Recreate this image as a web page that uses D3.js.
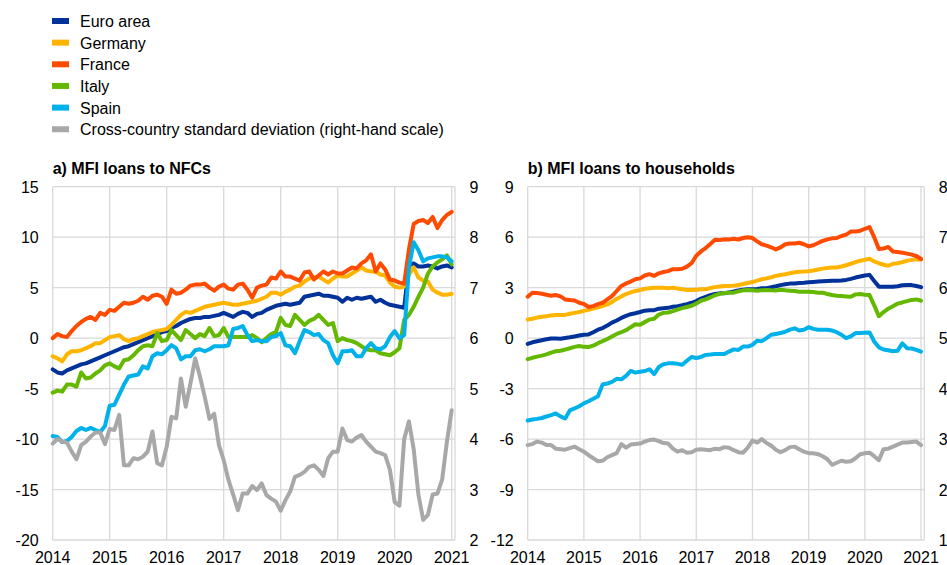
<!DOCTYPE html>
<html>
<head>
<meta charset="utf-8">
<script src="https://cdn.jsdelivr.net/npm/d3@7"></script>
<style>
  body { margin: 0; background: #fff; }
  text { font-family: "Liberation Sans", Arial, sans-serif; fill: #000; }
</style>
</head>
<body>
<svg id="chart" width="947" height="565"></svg>
<script>
// monthly observations, index 0 = Jan 2014 ... 84 = Jan 2021
const yearLabels = [2014, 2015, 2016, 2017, 2018, 2019, 2020, 2021];

const seriesNames = ["Euro area", "Germany", "France", "Italy", "Spain",
  "Cross-country standard deviation (right-hand scale)"];
const seriesColors = ["#003299", "#ffb400", "#ff4b00", "#65b800", "#00b1ea", "#a8a8a8"];

// a) MFI loans to NFCs
const nfcEuro = [-3.1,-3.4,-3.5,-3.2,-3.0,-2.8,-2.6,-2.5,-2.3,-2.1,-1.9,-1.7,
  -1.5,-1.3,-1.1,-0.9,-0.8,-0.6,-0.4,-0.2,0.0,0.2,0.4,0.6,
  0.7,1.0,1.2,1.5,1.7,1.9,2.0,2.0,2.1,2.1,2.2,2.3,
  2.5,2.3,2.1,2.4,2.6,2.5,2.1,2.4,2.5,2.8,3.0,3.2,
  3.3,3.4,3.3,3.4,3.5,4.1,4.2,4.3,4.4,4.2,4.2,4.1,
  4.0,3.6,4.0,3.8,4.0,3.9,4.0,4.1,3.6,3.8,3.5,3.3,
  3.2,3.1,3.0,7.2,7.4,7.1,7.1,7.2,7.1,6.9,7.1,7.2,
  7.0];
const nfcGermany = [-1.8,-2.0,-2.3,-1.6,-1.3,-1.3,-1.2,-1.0,-0.8,-0.5,-0.5,-0.2,
  0.1,0.2,0.3,-0.1,-0.3,-0.1,0.0,0.2,0.4,0.6,0.7,0.8,
  0.9,1.3,1.8,2.3,2.6,2.5,2.7,2.9,3.1,3.2,3.3,3.4,
  3.5,3.4,3.3,3.3,3.4,3.5,3.6,3.7,3.9,4.1,4.5,4.5,
  4.3,4.6,4.8,5.1,5.2,5.6,5.9,6.0,6.1,5.8,5.5,5.9,
  6.2,6.1,6.1,6.4,6.7,7.0,6.7,6.6,6.6,6.3,6.2,5.5,
  5.1,5.0,5.1,6.3,7.0,6.0,5.7,5.6,4.8,4.5,4.3,4.3,
  4.4];
const nfcFrance = [0.0,0.4,0.2,0.1,0.7,1.2,1.6,1.9,2.1,1.8,2.5,2.3,
  2.8,2.7,3.1,3.5,3.4,3.5,3.7,4.1,3.8,4.2,4.3,4.1,
  3.4,4.8,4.4,4.5,4.8,5.2,5.3,5.3,5.4,5.0,4.7,5.1,
  5.3,4.9,4.8,5.3,5.4,4.8,4.0,5.0,5.2,5.3,6.0,5.9,
  6.6,6.1,6.1,5.9,5.7,6.5,6.6,5.8,6.2,6.6,6.3,6.6,
  6.4,6.4,6.7,7.0,6.9,7.4,7.7,8.3,6.6,7.4,6.8,5.8,
  5.7,5.5,5.4,8.8,11.3,11.6,11.7,11.4,12.0,10.9,11.7,12.2,
  12.5];
const nfcItaly = [-5.4,-5.2,-5.3,-4.6,-4.6,-4.8,-3.4,-4.0,-3.9,-3.5,-3.2,-2.7,
  -2.5,-2.8,-3.0,-2.2,-2.1,-1.7,-1.2,-0.8,-0.7,-0.8,0.5,-0.3,
  -0.2,0.8,0.3,-0.2,0.8,0.4,0.0,0.4,0.2,1.0,0.2,0.3,
  1.0,0.1,0.1,0.1,0.1,0.1,0.3,0.0,-0.4,0.0,0.4,0.6,
  2.0,1.3,1.2,2.3,1.8,1.3,1.7,1.9,2.3,1.8,1.3,1.5,
  -0.3,0.0,-0.2,-0.3,-0.5,-0.8,-1.1,-1.2,-1.2,-1.5,-1.6,-1.7,
  -1.4,-1.0,1.8,2.3,3.1,4.1,5.0,6.4,7.1,7.5,7.8,8.2,
  7.3];
const nfcSpain = [-9.7,-9.8,-10.3,-10.2,-9.8,-9.2,-8.9,-9.1,-8.9,-9.1,-9.3,-8.7,
  -6.7,-6.6,-5.6,-4.6,-3.8,-3.7,-3.6,-2.8,-3.0,-1.8,-1.5,-1.6,
  -1.2,-0.7,-1.0,-2.1,-1.8,-1.8,-1.2,-1.1,-1.3,-1.1,-0.8,-0.8,
  -0.8,-0.7,0.9,1.0,1.2,0.3,-0.3,-0.2,-0.3,-0.3,0.1,0.2,
  0.5,-0.7,-0.8,-1.5,-0.3,0.8,0.6,0.3,0.4,-0.2,-0.5,-1.7,
  -2.5,-1.3,-1.3,-1.2,-1.8,-1.8,-1.0,-0.5,-1.0,-1.1,-0.8,0.1,
  0.7,0.0,0.3,7.0,9.5,8.7,7.6,7.9,8.0,8.1,8.1,8.0,
  7.6];
const nfcStdDev = [3.91,4.0,3.95,3.93,3.75,3.6,3.88,3.95,4.05,4.13,4.13,3.9,
  4.2,4.18,4.48,3.48,3.48,3.62,3.6,3.65,3.75,4.15,3.52,3.48,
  3.85,4.44,4.41,5.2,4.64,5.1,5.6,5.24,4.84,4.4,4.5,3.88,
  3.58,3.19,2.9,2.59,2.92,2.92,3.07,2.99,3.12,2.89,2.82,2.76,
  2.58,2.79,2.96,3.25,3.29,3.35,3.45,3.48,3.39,3.27,3.62,3.75,
  3.75,4.21,3.98,3.95,4.03,4.08,3.95,3.85,3.75,3.72,3.68,3.39,
  2.75,2.68,4.0,4.35,3.8,2.9,2.4,2.5,2.9,2.92,3.2,3.95,
  4.57];

// b) MFI loans to households
const hhEuro = [-0.34,-0.25,-0.19,-0.13,-0.07,-0.02,-0.03,-0.04,0.01,0.05,0.1,0.15,
  0.2,0.22,0.35,0.5,0.6,0.75,0.92,1.05,1.2,1.32,1.42,1.48,
  1.55,1.63,1.65,1.66,1.75,1.78,1.8,1.86,1.9,1.95,2.02,2.1,
  2.2,2.35,2.45,2.55,2.62,2.66,2.67,2.72,2.77,2.83,2.88,2.9,
  2.9,2.92,2.96,2.97,3.02,3.08,3.15,3.2,3.24,3.25,3.27,3.29,
  3.32,3.34,3.36,3.38,3.4,3.41,3.41,3.43,3.46,3.52,3.6,3.66,
  3.72,3.76,3.4,3.06,3.06,3.06,3.06,3.08,3.14,3.16,3.15,3.1,
  3.03];
const hhGermany = [1.11,1.15,1.22,1.27,1.3,1.35,1.37,1.37,1.38,1.45,1.5,1.55,
  1.62,1.68,1.75,1.83,1.91,2.0,2.15,2.33,2.48,2.62,2.72,2.8,
  2.86,2.93,2.97,3.0,3.0,2.99,2.96,3.0,2.95,2.9,2.86,2.86,
  2.88,2.9,2.9,2.98,3.03,3.07,3.1,3.1,3.12,3.16,3.22,3.28,
  3.33,3.42,3.5,3.55,3.62,3.7,3.75,3.8,3.86,3.91,3.95,3.96,
  3.98,4.02,4.08,4.13,4.17,4.2,4.2,4.26,4.33,4.42,4.52,4.6,
  4.66,4.72,4.56,4.45,4.36,4.3,4.42,4.45,4.52,4.6,4.65,4.68,
  4.68];
const hhFrance = [2.46,2.7,2.68,2.64,2.58,2.52,2.56,2.48,2.3,2.26,2.24,2.1,
  2.03,1.85,1.9,2.02,2.1,2.3,2.5,2.8,3.1,3.25,3.36,3.5,
  3.55,3.72,3.8,3.7,3.85,3.93,3.98,4.1,4.1,4.12,4.25,4.45,
  4.9,5.15,5.35,5.59,5.85,5.83,5.87,5.86,5.9,5.86,5.95,5.99,
  5.95,5.75,5.58,5.5,5.4,5.27,5.39,5.58,5.62,5.62,5.67,5.58,
  5.45,5.52,5.65,5.78,5.87,5.93,5.95,6.07,6.15,6.33,6.33,6.38,
  6.5,6.6,6.0,5.3,5.32,5.42,5.15,5.12,5.08,5.02,4.96,4.88,
  4.7];
const hhItaly = [-1.25,-1.17,-1.1,-1.04,-0.97,-0.86,-0.78,-0.75,-0.68,-0.6,-0.52,-0.47,
  -0.52,-0.53,-0.45,-0.3,-0.18,-0.05,0.1,0.25,0.35,0.47,0.65,0.82,
  0.8,0.95,1.1,1.15,1.4,1.5,1.52,1.6,1.7,1.78,1.85,1.92,
  2.05,2.22,2.3,2.42,2.55,2.63,2.68,2.7,2.7,2.78,2.84,2.86,
  2.84,2.82,2.84,2.86,2.84,2.83,2.88,2.84,2.82,2.8,2.76,2.76,
  2.76,2.74,2.7,2.7,2.62,2.56,2.52,2.5,2.48,2.46,2.6,2.62,
  2.58,2.56,1.95,1.3,1.55,1.75,1.9,2.05,2.12,2.2,2.27,2.3,
  2.22];
const hhSpain = [-4.9,-4.84,-4.8,-4.75,-4.66,-4.58,-4.48,-4.65,-4.78,-4.3,-4.18,-4.05,
  -3.88,-3.75,-3.6,-3.45,-2.75,-2.7,-2.6,-2.42,-2.45,-2.25,-1.95,-2.05,
  -2.0,-1.96,-1.85,-2.14,-1.72,-1.55,-1.5,-1.5,-1.53,-1.58,-1.35,-1.12,
  -1.18,-1.12,-1.0,-0.98,-0.95,-0.95,-0.95,-0.8,-0.67,-0.7,-0.5,-0.5,
  -0.4,-0.15,-0.18,0.0,0.2,0.25,0.3,0.38,0.5,0.58,0.45,0.5,
  0.65,0.55,0.5,0.5,0.5,0.45,0.35,0.2,0.0,0.1,0.3,0.3,
  0.32,0.34,-0.2,-0.55,-0.68,-0.72,-0.78,-0.75,-0.31,-0.6,-0.62,-0.7,
  -0.8];
const hhStdDev = [2.88,2.9,2.95,2.93,2.88,2.88,2.81,2.8,2.79,2.82,2.85,2.8,
  2.75,2.68,2.62,2.56,2.57,2.64,2.68,2.72,2.9,2.83,2.89,2.9,
  2.91,2.95,2.98,2.99,2.96,2.92,2.91,2.81,2.75,2.78,2.73,2.74,
  2.79,2.8,2.79,2.78,2.81,2.8,2.84,2.83,2.78,2.74,2.73,2.83,
  2.97,2.93,3.0,2.92,2.87,2.79,2.74,2.78,2.84,2.85,2.8,2.75,
  2.72,2.72,2.7,2.66,2.6,2.49,2.53,2.57,2.55,2.56,2.62,2.7,
  2.72,2.73,2.66,2.58,2.8,2.81,2.85,2.89,2.93,2.93,2.94,2.95,
  2.88];

const nfcLeftTicks = [-20, -15, -10, -5, 0, 5, 10, 15];
const nfcRightTicks = [2, 3, 4, 5, 6, 7, 8, 9];
const hhLeftTicks = [-12, -9, -6, -3, 0, 3, 6, 9];
const hhRightTicks = [1, 2, 3, 4, 5, 6, 7, 8];

const svg = d3.select("#chart");
const gridColor = "#d9d9d9";
const lastMonth = 84.7;

// legend
const legend = svg.append("g");
seriesNames.forEach((name, i) => {
  const cy = 21 + i * 21.65;
  legend.append("rect")
    .attr("x", 52).attr("y", cy - 3)
    .attr("width", 17).attr("height", 6)
    .attr("fill", seriesColors[i]);
  legend.append("text")
    .attr("x", 80).attr("y", cy + 6)
    .attr("font-size", 16)
    .text(name);
});

function drawPanel(cfg) {
  const g = svg.append("g");
  const x = d3.scaleLinear().domain([0, lastMonth]).range([cfg.left, cfg.right]);
  const yL = d3.scaleLinear().domain(d3.extent(cfg.leftTicks)).range([cfg.bottom, cfg.top]);
  const yR = d3.scaleLinear().domain(d3.extent(cfg.rightTicks)).range([cfg.bottom, cfg.top]);

  // grid
  g.selectAll(".hgrid").data(cfg.leftTicks).enter().append("line")
    .attr("x1", cfg.left).attr("x2", cfg.right)
    .attr("y1", d => yL(d)).attr("y2", d => yL(d))
    .attr("stroke", gridColor).attr("stroke-width", 1.3);
  g.selectAll(".vgrid").data(yearLabels).enter().append("line")
    .attr("x1", (d, i) => x(i * 12)).attr("x2", (d, i) => x(i * 12))
    .attr("y1", cfg.top).attr("y2", cfg.bottom)
    .attr("stroke", gridColor).attr("stroke-width", 1.3);
  g.append("line")
    .attr("x1", cfg.right).attr("x2", cfg.right)
    .attr("y1", cfg.top).attr("y2", cfg.bottom)
    .attr("stroke", gridColor).attr("stroke-width", 1.3);

  // axis labels
  g.selectAll(".lt").data(cfg.leftTicks).enter().append("text")
    .attr("x", cfg.left - 14).attr("y", d => yL(d) + 6)
    .attr("text-anchor", "end").attr("font-size", 16)
    .text(d => d);
  g.selectAll(".rt").data(cfg.rightTicks).enter().append("text")
    .attr("x", cfg.right + 14.5).attr("y", d => yR(d) + 6)
    .attr("font-size", 16)
    .text(d => d);
  g.selectAll(".xt").data(yearLabels).enter().append("text")
    .attr("x", (d, i) => x(i * 12)).attr("y", 563)
    .attr("text-anchor", "middle").attr("font-size", 16)
    .text(d => d);

  g.append("text")
    .attr("x", cfg.left).attr("y", 173.5)
    .attr("font-size", 16).attr("font-weight", "bold")
    .text(cfg.title);

  cfg.series.forEach((vals, i) => {
    const y = i === 5 ? yR : yL;
    const line = d3.line().x((d, j) => x(j)).y(d => y(d));
    g.append("path")
      .datum(vals)
      .attr("d", line)
      .attr("fill", "none")
      .attr("stroke", seriesColors[i])
      .attr("stroke-width", 4)
      .attr("stroke-linejoin", "round")
      .attr("stroke-linecap", "round");
  });
}

drawPanel({
  title: "a) MFI loans to NFCs",
  left: 52.7, right: 455, top: 186.7, bottom: 540,
  leftTicks: nfcLeftTicks, rightTicks: nfcRightTicks,
  series: [nfcEuro, nfcGermany, nfcFrance, nfcItaly, nfcSpain, nfcStdDev]
});

drawPanel({
  title: "b) MFI loans to households",
  left: 527.7, right: 924.3, top: 186.7, bottom: 540,
  leftTicks: hhLeftTicks, rightTicks: hhRightTicks,
  series: [hhEuro, hhGermany, hhFrance, hhItaly, hhSpain, hhStdDev]
});
</script>
</body>
</html>
